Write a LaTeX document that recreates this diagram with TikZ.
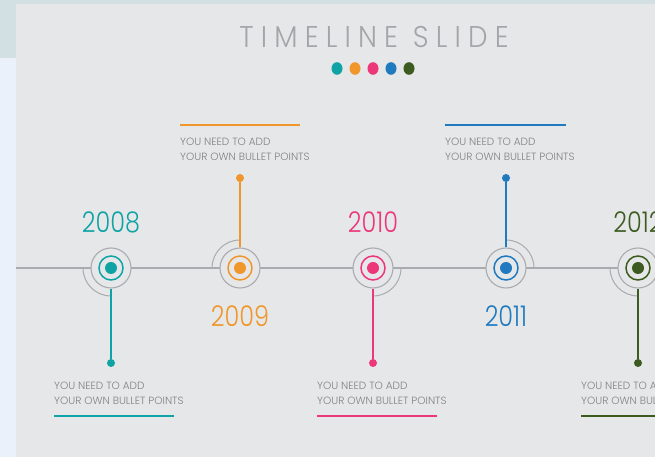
\documentclass[tikz,border=0pt]{standalone}
\usepackage{fontspec}
\setmainfont{Poppins}[UprightFont=* Light]
\definecolor{panel}{HTML}{E6E7E8}
\definecolor{topc}{HTML}{D2E0E4}
\definecolor{leftc}{HTML}{EAF1FB}
\definecolor{cteal}{HTML}{0FA3A5}
\definecolor{corange}{HTML}{F0962A}
\definecolor{cpink}{HTML}{EC3778}
\definecolor{cblue}{HTML}{1F7AC0}
\definecolor{cgreen}{HTML}{3B5B20}
\definecolor{lgray}{HTML}{A9ABAE}
\definecolor{tgray}{HTML}{808184}
\definecolor{titlegray}{HTML}{A3A5A8}
\tikzset{
  ring/.style={circle, draw=lgray, line width=1.1pt, minimum size=40pt, inner sep=0pt},
  cring/.style={circle, line width=1.5pt, minimum size=24pt, inner sep=0pt},
  core/.style={circle, minimum size=12pt, inner sep=0pt},
  arcg/.style={draw=lgray, line width=1pt},
  dotend/.style={circle, minimum size=8pt, inner sep=0pt},
  conn/.style={line width=1.2pt},
  year/.style={font=\fontsize{28.5}{30}\selectfont, anchor=base, inner sep=0pt},
  txt/.style={font=\fontsize{10.5}{15}\selectfont, text=tgray, align=left, anchor=north west, inner sep=0pt},
  rule/.style={line width=1.2pt},
  tl/.style={draw=lgray, line width=1.2pt}
}
\newcommand\yr[1]{\scalebox{0.84}[1]{#1}}
\begin{document}
\begin{tikzpicture}[x=1pt,y=1pt]
\useasboundingbox (0,0) rectangle (655,457);
\fill[panel] (0,0) rectangle (655,457);
\fill[topc] (0,453) rectangle (655,457);
\fill[topc] (0,399) rectangle (16,453);
\fill[leftc] (0,0) rectangle (16,399);
% title
\node[font=\fontsize{30}{32}\selectfont, text=titlegray, anchor=base, inner sep=0pt] (title) at (374,409)
  {\scalebox{0.92}[1]{T\kern7.8pt I\kern7.8pt M\kern7.8pt E\kern7.8pt L\kern7.8pt I\kern7.8pt N\kern7.8pt E\kern7.8pt\ S\kern7.8pt L\kern7.8pt I\kern7.8pt D\kern7.8pt E}};
\fill[cteal] (337,388.5) ellipse[x radius=5.5, y radius=6.3];
\fill[corange] (355,388.5) ellipse[x radius=5.5, y radius=6.3];
\fill[cpink] (373,388.5) ellipse[x radius=5.5, y radius=6.3];
\fill[cblue] (391,388.5) ellipse[x radius=5.5, y radius=6.3];
\fill[cgreen] (409,388.5) ellipse[x radius=5.5, y radius=6.3];
% timeline
\coordinate (L) at (16,189);
\coordinate (R) at (655,189);
\draw[tl] (L) -- (R);
% 2008
\node[ring, fill=panel] (r1) at (111,189) {};
\node[cring, draw=cteal] at (r1) {};
\node[core, fill=cteal] at (r1) {};
\draw[arcg] (r1) ++(180:28) arc[start angle=180, end angle=270, radius=28];
\node[dotend, fill=cteal] (d1) at (111,94) {};
\draw[conn, cteal] (r1) -- (d1);
\node[year, text=cteal] (y1) at (111,224) {\yr{2008}};
\node[txt] (t1) at (54,75) {YOU NEED TO ADD\\YOUR OWN BULLET POINTS};
\coordinate (u1a) at (54,41); \coordinate (u1b) at (174,41);
\draw[rule, cteal] (u1a) -- (u1b);
% 2009
\node[ring, fill=panel] (r2) at (240,189) {};
\node[cring, draw=corange] at (r2) {};
\node[core, fill=corange] at (r2) {};
\draw[arcg] (r2) ++(90:28) arc[start angle=90, end angle=180, radius=28];
\node[dotend, fill=corange] (d2) at (240,279) {};
\draw[conn, corange] (r2) -- (d2);
\node[year, text=corange] (y2) at (240,130) {\yr{2009}};
\node[txt] (t2) at (180,319) {YOU NEED TO ADD\\YOUR OWN BULLET POINTS};
\coordinate (u2a) at (180,332); \coordinate (u2b) at (300,332);
\draw[rule, corange] (u2a) -- (u2b);
% 2010
\node[ring, fill=panel] (r3) at (373,189) {};
\node[cring, draw=cpink] at (r3) {};
\node[core, fill=cpink] at (r3) {};
\draw[arcg] (r3) ++(270:28) arc[start angle=270, end angle=360, radius=28];
\node[dotend, fill=cpink] (d3) at (373,94) {};
\draw[conn, cpink] (r3) -- (d3);
\node[year, text=cpink] (y3) at (373,224) {\yr{2010}};
\node[txt] (t3) at (317,75) {YOU NEED TO ADD\\YOUR OWN BULLET POINTS};
\coordinate (u3a) at (317,41); \coordinate (u3b) at (437,41);
\draw[rule, cpink] (u3a) -- (u3b);
% 2011
\node[ring, fill=panel] (r4) at (506,189) {};
\node[cring, draw=cblue] at (r4) {};
\node[core, fill=cblue] at (r4) {};
\draw[arcg] (r4) ++(0:28) arc[start angle=0, end angle=90, radius=28];
\node[dotend, fill=cblue] (d4) at (506,279) {};
\draw[conn, cblue] (r4) -- (d4);
\node[year, text=cblue] (y4) at (506,130) {\yr{2011}};
\node[txt] (t4) at (445,319) {YOU NEED TO ADD\\YOUR OWN BULLET POINTS};
\coordinate (u4a) at (445,332); \coordinate (u4b) at (566,332);
\draw[rule, cblue] (u4a) -- (u4b);
% 2012
\node[ring, fill=panel] (r5) at (638,189) {};
\node[cring, draw=cgreen] at (r5) {};
\node[core, fill=cgreen] at (r5) {};
\draw[arcg] (r5) ++(180:28) arc[start angle=180, end angle=270, radius=28];
\node[dotend, fill=cgreen] (d5) at (638,94) {};
\draw[conn, cgreen] (r5) -- (d5);
\node[year, text=cgreen] (y5) at (638,224) {\yr{2012}};
\node[txt] (t5) at (581,75) {YOU NEED TO ADD\\YOUR OWN BULLET POINTS};
\coordinate (u5a) at (581,41); \coordinate (u5b) at (701,41);
\draw[rule, cgreen] (u5a) -- (u5b);
\end{tikzpicture}
\end{document}
